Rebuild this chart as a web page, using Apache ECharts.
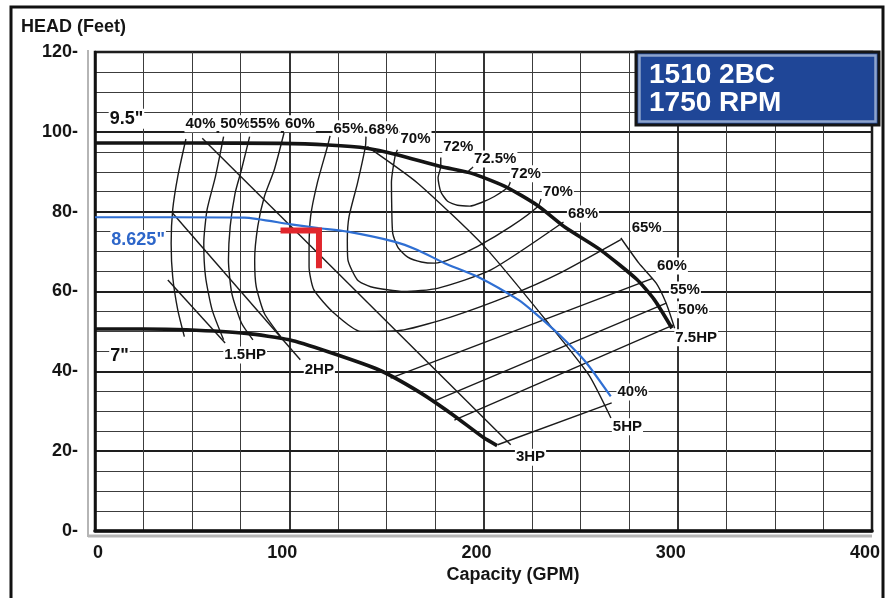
<!DOCTYPE html>
<html>
<head>
<meta charset="utf-8">
<title>1510 2BC pump curve</title>
<script src="https://cdn.jsdelivr.net/npm/echarts@6.0.0/dist/echarts.min.js"></script>
<style>
  html, body { margin: 0; padding: 0; background: #ffffff; }
  #chart { width: 885px; height: 598px; }
</style>
</head>
<body>
<div id="chart"></div>
<script>
// ---- Head / capacity curves for the three impeller diameters  [GPM, feet] ----
const dia95 = [[0, 97.2], [50, 97.2], [95, 97.1], [120, 96.7], [140, 95.9], [156, 94.2], [178, 91.3],
  [194, 89.6], [212, 86.1], [228, 81.5], [242, 76.1], [260, 70.5], [279, 63.0], [288, 57.9], [297, 50.8]];
const dia8625 = [[0, 78.6], [40, 78.6], [77, 78.5], [100, 76.9], [115, 75.9], [130, 75.0], [154, 72.5],
  [166, 70.4], [180, 67.1], [197, 63.7], [218, 57.9], [226.5, 54.6], [238.5, 49.4], [252.5, 42.4], [265.5, 33.7]];
const dia7 = [[0, 50.6], [25, 50.6], [47, 50.4], [78, 49.5], [100, 47.9], [120, 44.9], [146, 40.4],
  [167, 34.8], [184, 29.2], [200, 23.4], [207, 21.4]];

// ---- Efficiency contours (left and right branches where the 7" curve cuts them) ----
const eff40a = [[46.8, 98.2], [42.6, 88.8], [40, 80.5], [39.2, 72.1], [40, 63.7], [42.6, 55.4], [46, 48.7]];
const eff40b = [[207.3, 21.6], [266, 32.1]];
const eff50a = [[66.2, 98.8], [62, 88.8], [57.7, 80.5], [56, 72.1], [56.9, 63.7], [60.3, 55.4], [66.2, 47.9]];
const eff50b = [[185, 27.8], [297.6, 51.6]];
const eff55a = [[79.6, 98.8], [75.4, 90.5], [72.1, 84.6], [69.6, 76.3], [68.7, 67.9], [70.4, 59.6], [75.4, 52.1], [81.3, 47.9]];
const eff55b = [[173.9, 32.4], [294.1, 57.1]];
const eff60a = [[97.3, 99.7], [92.3, 90.5], [87.2, 83.8], [83.8, 76.3], [82.2, 67.9], [83, 61.2], [87.2, 54.5], [95.6, 48.7]];
const eff60b = [[152.2, 38.3], [287.1, 63.3]];
const eff65 = [[121, 99], [119.6, 96.2], [114.4, 87.1], [111, 78.8], [110.2, 70.4], [110.2, 66.2], [112.7, 60.4],
  [123, 54.6], [136.8, 50], [159.1, 50.4], [183.1, 53.6], [214, 59.1], [238.5, 64.4], [270.7, 73]];
const eff68 = [[139.5, 98.8], [139.2, 96.3], [135.1, 87.1], [130.8, 78.8], [129.9, 72.9], [130.2, 67.9], [135.1, 62.9],
  [141.9, 61.2], [159.1, 60], [176.3, 60.8], [203.8, 65.4], [241.2, 77.4]];
const eff70 = [[155.7, 95.5], [154.6, 94.2], [152.6, 87.2], [152.8, 80], [153.3, 74.5], [156, 71], [161, 68.6],
  [168, 67.4], [175, 67.1], [182, 67.9], [197, 71.3], [214.2, 76.3], [228, 81.3], [229.6, 83.2]];
const eff72 = [[178, 93.6], [178, 91.3], [176.6, 88.5], [178, 85], [181.5, 82.6], [186.6, 81.6], [193, 81.4],
  [199, 82.3], [205.6, 83.8], [212.5, 86.1], [214, 87.7]];
const eff725 = [[192.3, 90.2], [195.4, 91.5]];

// ---- Brake horsepower lines ----
const bhp15 = [[37.5, 62.9], [67, 47.1]];
const bhp2 = [[40, 79.6], [105.7, 42.9]];
const bhp3 = [[55.2, 98.4], [214, 21.6]];
const bhp5 = [[140.2, 96.3], [166, 87.2], [200.4, 71.3], [233.3, 52.1], [254.2, 39.1], [265.6, 28.3]];
const bhp75 = [[270.7, 73.4], [280, 67.1], [288.9, 62.1], [294, 57.1], [298.4, 50.8]];

// ---- Duty point marker ----
const dutyMark = [[95.5, 75.3], [115.3, 75.3], [115.3, 65.8]];

// ---- Curve annotations: text and anchor [GPM, feet] ----
const noteText = ['9.5"', '8.625"', '7"', '40%', '50%', '55%', '60%', '65%', '68%', '70%', '72%', '72.5%',
  '72%', '70%', '68%', '65%', '60%', '55%', '50%', '7.5HP', '40%', '5HP', '3HP', '2HP', '1.5HP'];
const noteQ = [16.2, 22.2, 12.6, 54.3, 72.2, 87.4, 105.5, 130.5, 148.5, 165, 187, 206, 221.8, 238.3, 251.2,
  284, 297, 303.7, 307.9, 309.5, 276.7, 274.1, 224.2, 115.5, 77.3];
const noteH = [103.3, 72.9, 43.9, 102, 102, 102, 102, 100.8, 100.5, 98.2, 96.2, 93.2, 89.5, 85, 79.4,
  75.9, 66.4, 60.4, 55.4, 48.4, 34.8, 26.1, 18.5, 40.4, 44.1];
const diameterNotes = ['9.5"', '8.625"', '7"'];

// Axis ranges and tick steps
const capRange = [0, 400], capStep = 100;
const headRange = [0, 120], headStep = 20;

const FONT = '"Liberation Sans", Arial, Helvetica, sans-serif';
const W = 885, H = 598;
const GRID = { left: 95, right: 13, top: 52, bottom: 67 };

const chart = echarts.init(document.getElementById('chart'), null, { renderer: 'canvas', width: W, height: H });

const thin = { color: '#1b1b1b', width: 1.4 };
const heavy = { color: '#141414', width: 3.6 };

function curve(data, lineStyle, z, smooth) {
  return {
    type: 'line', data: data, symbol: 'none', showSymbol: false,
    smooth: smooth === undefined ? 0.2 : smooth,
    lineStyle: lineStyle, z: z || 3, silent: true, animation: false
  };
}

const series = [
  curve(dia95, heavy, 4),
  curve(dia7, heavy, 4),
  curve(dia8625, { color: '#2f6fd3', width: 2.2 }, 5)
];
[eff40a, eff40b, eff50a, eff50b, eff55a, eff55b, eff60a, eff60b, eff65, eff68, eff70, eff72, eff725]
  .forEach(d => series.push(curve(d, thin, 3)));
[bhp15, bhp2, bhp3, bhp5, bhp75].forEach(d => series.push(curve(d, thin, 3)));
series.push(curve(dutyMark, { color: '#e1262c', width: 6, cap: 'butt', join: 'miter' }, 6, false));

// Annotation labels sit on white boxes that interrupt the grid lines
series.push({
  type: 'scatter', symbol: 'circle', symbolSize: 1, itemStyle: { color: '#ffffff' },
  silent: true, animation: false, z: 10,
  label: {
    show: true, position: 'inside', formatter: p => p.name,
    fontFamily: FONT, fontWeight: 'bold', fontSize: 15, color: '#101010',
    textBorderWidth: 0, textBorderColor: 'transparent', opacity: 1,
    backgroundColor: '#ffffff', padding: [2, 1, 0, 1]
  },
  labelLayout: { hideOverlap: false },
  data: noteText.map((t, i) => {
    const item = { name: t, value: [noteQ[i], noteH[i]] };
    if (diameterNotes.indexOf(t) >= 0) {
      item.label = { fontSize: 18, color: t === '8.625"' ? '#2d66c9' : '#101010' };
    }
    return item;
  })
});

const gx = GRID.left, gy = GRID.top, gw = W - GRID.left - GRID.right, gh = H - GRID.top - GRID.bottom;

chart.setOption({
  animation: false,
  backgroundColor: '#ffffff',
  grid: { left: GRID.left, right: GRID.right, top: GRID.top, bottom: GRID.bottom,
    show: true, borderColor: '#111', borderWidth: 2.5 },
  xAxis: {
    type: 'value', min: capRange[0], max: capRange[1], interval: capStep,
    minorTick: { show: false, splitNumber: 4 },
    minorSplitLine: { show: true, lineStyle: { color: '#3c3c3c', width: 1 } },
    splitLine: { show: true, lineStyle: { color: '#1e1e1e', width: 1.8 } },
    axisLine: { show: true, onZero: false, lineStyle: { color: '#111', width: 3.5 } },
    axisTick: { show: false },
    axisLabel: { fontFamily: FONT, fontWeight: 'bold', fontSize: 18, color: '#151515',
      margin: 13, align: 'right', padding: [0, -8, 0, 0] }
  },
  yAxis: {
    type: 'value', min: headRange[0], max: headRange[1], interval: headStep,
    minorTick: { show: false, splitNumber: 4 },
    minorSplitLine: { show: true, lineStyle: { color: '#3c3c3c', width: 1 } },
    splitLine: { show: true, lineStyle: { color: '#1e1e1e', width: 1.8 } },
    axisLine: { show: true, onZero: false, lineStyle: { color: '#111', width: 2.5 } },
    axisTick: { show: false },
    axisLabel: { fontFamily: FONT, fontWeight: 'bold', fontSize: 18, color: '#151515',
      margin: 17, formatter: v => v + '-' }
  },
  series: series,
  graphic: [
    // outer page frame
    { type: 'rect', silent: true, z: 50, shape: { x: 11, y: 7, width: W - 13, height: H + 20 },
      style: { fill: null, stroke: '#111', lineWidth: 3 } },
    // soft shadow along the left and bottom of the plot frame
    { type: 'line', silent: true, z: 1, shape: { x1: gx - 7, y1: gy - 2, x2: gx - 7, y2: gy + gh + 6 },
      style: { stroke: '#b5b5b5', lineWidth: 2 } },
    { type: 'line', silent: true, z: 1, shape: { x1: gx - 7, y1: gy + gh + 5, x2: gx + gw, y2: gy + gh + 5 },
      style: { stroke: '#b5b5b5', lineWidth: 3 } },
    // axis titles
    { type: 'text', silent: true, z: 50, x: 21, y: 27,
      style: { text: 'HEAD (Feet)', font: 'bold 18px ' + FONT, fill: '#151515', verticalAlign: 'middle' } },
    { type: 'text', silent: true, z: 50, x: 513, y: 575,
      style: { text: 'Capacity (GPM)', font: 'bold 18px ' + FONT, fill: '#151515', align: 'center', verticalAlign: 'middle' } },
    // model / speed plate
    { type: 'rect', silent: true, z: 60, shape: { x: 636, y: 52, width: 243, height: 73 },
      style: { fill: '#1f4697', stroke: '#161616', lineWidth: 3 } },
    { type: 'rect', silent: true, z: 61, shape: { x: 639.5, y: 55.5, width: 236, height: 66 },
      style: { fill: null, stroke: '#8ea4cc', lineWidth: 2.5 } },
    { type: 'text', silent: true, z: 62, x: 649, y: 75,
      style: { text: '1510 2BC', font: 'bold 28px ' + FONT, fill: '#ffffff', verticalAlign: 'middle' } },
    { type: 'text', silent: true, z: 62, x: 649, y: 103,
      style: { text: '1750 RPM', font: 'bold 28px ' + FONT, fill: '#ffffff', verticalAlign: 'middle' } }
  ]
});
</script>
</body>
</html>
